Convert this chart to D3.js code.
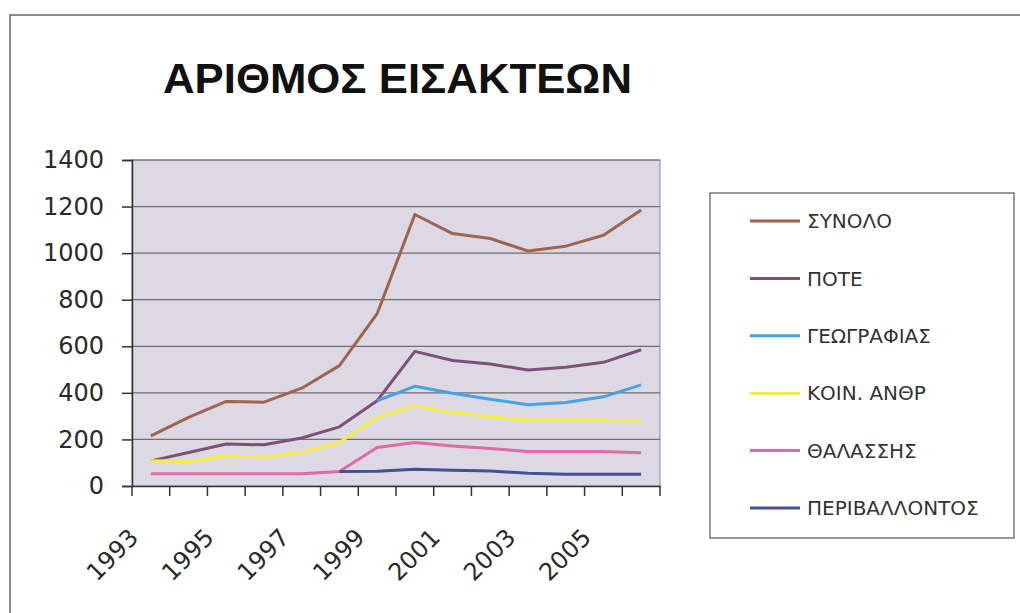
<!DOCTYPE html>
<head>
  <meta charset="UTF-8">
  <title>ΑΡΙΘΜΟΣ ΕΙΣΑΚΤΕΩΝ</title>
  <style>
  body, html, svg{
    padding: 0;
    margin: 0;
  }
  body{
    background: #fff;
  }
  svg{
    display: block;
  }
  .axis text{
    font-family: "DejaVu Sans", sans-serif;
    font-size: 24px;
    fill: #2a2a2a;
  }
  .legend text{
    font-family: "DejaVu Sans", sans-serif;
    font-size: 20px;
    fill: #333;
  }
  </style>
</head>
<body>
  <script src="https://cdn.jsdelivr.net/npm/d3@7"></script>
  <script type="text/javascript">
  // data
  var years = ['1993','1994','1995','1996','1997','1998','1999','2000','2001','2002','2003','2004','2005','2006'];
  var labelYears = ['1993','1995','1997','1999','2001','2003','2005'];
  var yTicks = [0, 200, 400, 600, 800, 1000, 1200, 1400];

  var synolo    = [215, 295, 363, 360, 420, 517, 740, 1166, 1084, 1063, 1009, 1030, 1077, 1185];
  var pote      = [108, 144, 180, 177, 206, 254, 366, 578, 539, 524, 498, 510, 531, 585];
  var geografias = [null, null, null, null, null, null, 366, 428, 398, 373, 349, 359, 383, 434];
  var koinAnthr = [108, 105, 129, 125, 144, 187, 294, 345, 316, 297, 283, 283, 283, 280];
  var thalassis = [53, 53, 53, 53, 53, 62, 165, 187, 172, 161, 148, 148, 148, 143];
  var perivallontos = [null, null, null, null, null, 62, 63, 72, 68, 64, 55, 50, 50, 50];

  var seriesNames = ['ΣΥΝΟΛΟ', 'ΠΟΤΕ', 'ΓΕΩΓΡΑΦΙΑΣ', 'ΚΟΙΝ. ΑΝΘΡ', 'ΘΑΛΑΣΣΗΣ', 'ΠΕΡΙΒΑΛΛΟΝΤΟΣ'];
  var seriesValues = [synolo, pote, geografias, koinAnthr, thalassis, perivallontos];
  var seriesColors = ['#a0634c', '#7d5079', '#45a3e2', '#f4ec3e', '#e069a8', '#434f96'];

  var width = 1020, height = 613;
  var svg = d3.select('body').append('svg')
    .attr('width', width)
    .attr('height', height);

  // outer frame (scanned page edge)
  svg.append('path')
    .attr('d', 'M10,613 L10,15 L1020,15')
    .attr('fill', 'none')
    .attr('stroke', '#666')
    .attr('stroke-width', 1.5);

  // title
  svg.append('text')
    .attr('x', 163)
    .attr('y', 93)
    .attr('textLength', 469)
    .attr('lengthAdjust', 'spacingAndGlyphs')
    .style('font-family', '"Liberation Sans", Arial, sans-serif')
    .style('font-weight', 'bold')
    .style('font-size', '43px')
    .style('fill', '#111')
    .text('ΑΡΙΘΜΟΣ ΕΙΣΑΚΤΕΩΝ');

  // plot area
  var plot = {left: 132, right: 660, top: 160, bottom: 486};

  var x = d3.scaleBand()
    .domain(years)
    .range([plot.left, plot.right])
    .padding(0);

  var y = d3.scaleLinear()
    .domain([0, 1400])
    .range([plot.bottom, plot.top]);

  svg.append('rect')
    .attr('x', plot.left)
    .attr('y', plot.top)
    .attr('width', plot.right - plot.left)
    .attr('height', plot.bottom - plot.top)
    .attr('fill', '#dcd9e5')
    .attr('stroke', '#8a8a8a')
    .attr('stroke-width', 1);

  // gridlines
  svg.append('g')
    .selectAll('line')
    .data(yTicks.slice(1))
    .enter()
    .append('line')
    .attr('x1', plot.left)
    .attr('x2', plot.right)
    .attr('y1', function(d) { return y(d); })
    .attr('y2', function(d) { return y(d); })
    .attr('stroke', '#6f6f6f')
    .attr('stroke-width', 1.2);

  // y axis
  var yAxis = svg.append('g')
    .attr('class', 'axis')
    .attr('transform', 'translate(' + plot.left + ',0)')
    .call(d3.axisLeft(y).tickValues(yTicks).tickSize(10).tickPadding(18).tickFormat(d3.format('d')));
  yAxis.selectAll('line, path').attr('stroke', '#333').attr('stroke-width', 1.5);

  // x axis: labels at category centres, ticks at boundaries
  var xAxis = svg.append('g')
    .attr('class', 'axis')
    .attr('transform', 'translate(0,' + plot.bottom + ')')
    .call(d3.axisBottom(x).tickSize(0).tickFormat(function(d) {
      return labelYears.indexOf(d) >= 0 ? d : '';
    }));
  xAxis.select('.domain').attr('stroke', '#333').attr('stroke-width', 1.5);
  xAxis.selectAll('text')
    .attr('y', 0)
    .attr('dy', 0)
    .attr('text-anchor', 'end')
    .attr('transform', 'translate(-11,53) rotate(-45)');

  var bounds = years.map(function(d) { return x(d); }).concat([plot.right]);
  xAxis.selectAll('line.bound')
    .data(bounds)
    .enter()
    .append('line')
    .attr('class', 'bound')
    .attr('x1', function(d) { return d; })
    .attr('x2', function(d) { return d; })
    .attr('y1', 0)
    .attr('y2', 10)
    .attr('stroke', '#333')
    .attr('stroke-width', 1.5);

  // lines
  var line = d3.line()
    .defined(function(d) { return d.v !== null; })
    .x(function(d) { return x(d.year) + x.bandwidth() / 2; })
    .y(function(d) { return y(d.v); });

  seriesValues.forEach(function(vals, i) {
    var pts = years.map(function(yr, j) { return {year: yr, v: vals[j]}; });
    svg.append('path')
      .datum(pts)
      .attr('d', line)
      .attr('fill', 'none')
      .attr('stroke', seriesColors[i])
      .attr('stroke-width', 3)
      .attr('stroke-linejoin', 'round');
  });

  // legend
  var legend = svg.append('g').attr('class', 'legend');
  legend.append('rect')
    .attr('x', 710)
    .attr('y', 193)
    .attr('width', 304)
    .attr('height', 345)
    .attr('fill', '#fff')
    .attr('stroke', '#555')
    .attr('stroke-width', 1.2);

  var rows = legend.selectAll('g.row')
    .data(seriesNames)
    .enter()
    .append('g')
    .attr('class', 'row')
    .attr('transform', function(d, i) { return 'translate(750,' + (221 + i * 57.4) + ')'; });

  rows.append('line')
    .attr('x1', 0)
    .attr('x2', 50)
    .attr('stroke', function(d, i) { return seriesColors[i]; })
    .attr('stroke-width', 3);

  rows.append('text')
    .attr('x', 57)
    .attr('dy', '0.36em')
    .text(function(d) { return d; });
  </script>
</body>
</html>
